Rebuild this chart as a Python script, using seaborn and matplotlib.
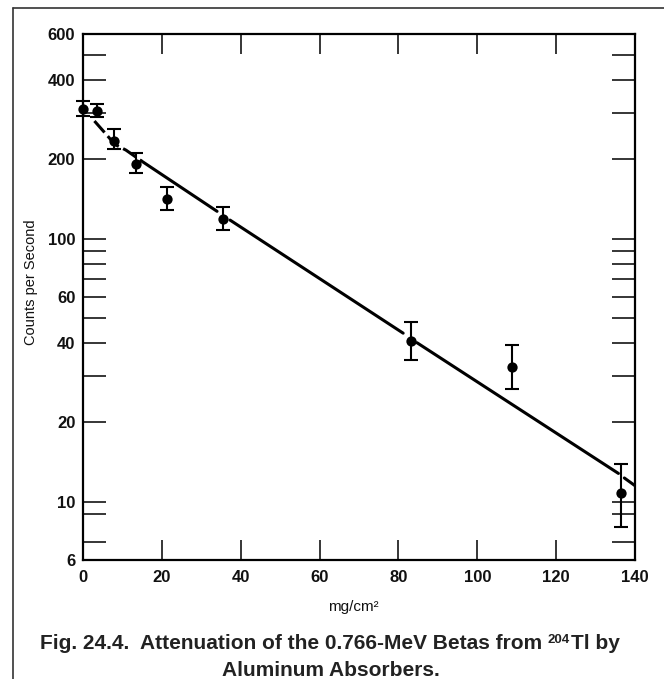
import pandas as pd
import matplotlib.pyplot as plt
import seaborn as sns
from matplotlib.lines import Line2D
from matplotlib.ticker import NullFormatter

# absorber thickness (mg/cm2) and count rates
thickness = [0, 3.5, 7.9, 13.4, 21.3, 35.5, 83.3, 108.8, 136.4]
counts = [311, 306, 236, 193, 142, 119, 40.8, 32.6, 10.8]
counts_hi = [335, 326, 262, 212, 157, 132, 48.4, 39.3, 13.9]
counts_lo = [293, 289, 219, 177, 128, 108, 34.6, 26.7, 8.0]

# straight fit line, drawn in pieces (broken around the points)
fit_x = [14.9, 34.0, 37.3, 81.2, 84.7, 135.8, 137.3, 140]
fit_y = [197, 127, 117.6, 43.7, 40.2, 12.8, 12.3, 11.5]
fit_seg = [0, 0, 1, 1, 2, 2, 3, 3]

# dashed curve at small thickness
curve_x = [2.9, 6.0, 8.1, 10.9, 14.9]
curve_y = [280, 248, 228, 217, 197]

x_ticks = [0, 20, 40, 60, 80, 100, 120, 140]
y_ticks = [6, 10, 20, 40, 60, 100, 200, 400, 600]
y_minor = [7, 9, 30, 50, 70, 80, 90, 300, 500]

sns.set_style('ticks')
plt.rcParams['font.family'] = ['Liberation Sans', 'DejaVu Sans']

df = pd.DataFrame({'x': thickness, 'y': counts})
fit = pd.DataFrame({'x': fit_x, 'y': fit_y, 'seg': fit_seg})
curve = pd.DataFrame({'x': curve_x, 'y': curve_y})

fig = plt.figure(figsize=(6.64, 6.79), dpi=100)
ax = fig.add_axes([0.125, 0.1753, 0.8313, 0.7747])
ax.set_yscale('log')

sns.lineplot(data=fit, x='x', y='y', units='seg', estimator=None,
             color='black', lw=2.2, ax=ax)
sns.lineplot(data=curve, x='x', y='y', color='black', lw=2.2,
             linestyle=(0, (5, 1.6)), ax=ax)

err = [[c - l for c, l in zip(counts, counts_lo)],
       [h - c for c, h in zip(counts, counts_hi)]]
ax.errorbar(thickness, counts, yerr=err, fmt='none', ecolor='black',
            elinewidth=1.5, capsize=5, capthick=1.5, clip_on=False, zorder=3)
sns.scatterplot(data=df, x='x', y='y', color='black', s=55, linewidth=0,
                ax=ax, zorder=4, clip_on=False)

ax.set_xlim(0, 140)
ax.set_ylim(6, 600)
ax.set_xticks(x_ticks, [str(v) for v in x_ticks])
ax.set_yticks(y_ticks, [str(v) for v in y_ticks])
ax.set_yticks(y_minor, minor=True)
ax.yaxis.set_minor_formatter(NullFormatter())
ax.xaxis.set_minor_locator(plt.NullLocator())

ax.tick_params(which='both', direction='in', width=1.1, color='black',
               top=True, right=True, labelsize=12, labelcolor='#111111')
ax.tick_params(axis='y', which='both', length=16.5, pad=5.5)
ax.tick_params(axis='x', length=14.5, pad=7.5)
for lab in ax.get_xticklabels() + ax.get_yticklabels():
    lab.set_fontweight('bold')
for sp in ax.spines.values():
    sp.set_linewidth(1.6)
    sp.set_color('black')

ax.set_ylabel('Counts per Second', fontsize=10.5, color='#111111')
ax.yaxis.set_label_coords(-0.0815, 0.5285)
ax.set_xlabel('mg/cm²', fontsize=11, color='#111111', va='center')
ax.xaxis.set_label_coords(0.489, -0.0894)

# caption, first line built from pieces so the superscript sits right
cap = dict(fontweight='bold', color='#222222')
t1 = fig.text(40 / 664, 1 - 649 / 679,
              'Fig. 24.4.  Attenuation of the 0.766-MeV Betas from',
              ha='left', va='baseline', fontsize=15, **cap)
sup = ax.annotate('204', xy=(1, 0.5), xycoords=t1, xytext=(4, 2.5),
                  textcoords='offset points', ha='left', va='center',
                  fontsize=9.5, **cap)
ax.annotate('Tl by', xy=(1, 0.5), xycoords=(sup, t1), xytext=(0.5, 0),
            textcoords='offset points', ha='left', va='center',
            fontsize=15, **cap)
fig.text(0.4985, 1 - 676 / 679, 'Aluminum Absorbers.',
         ha='center', va='baseline', fontsize=15, **cap)

# page frame around the figure
top = 1 - 7.5 / 679
fig.add_artist(Line2D([13 / 664, 13 / 664], [0, top], transform=fig.transFigure,
                      color='#333333', lw=1.2))
fig.add_artist(Line2D([13 / 664, 1], [top, top], transform=fig.transFigure,
                      color='#333333', lw=1.2))

fig.savefig('out.png', dpi=100)
